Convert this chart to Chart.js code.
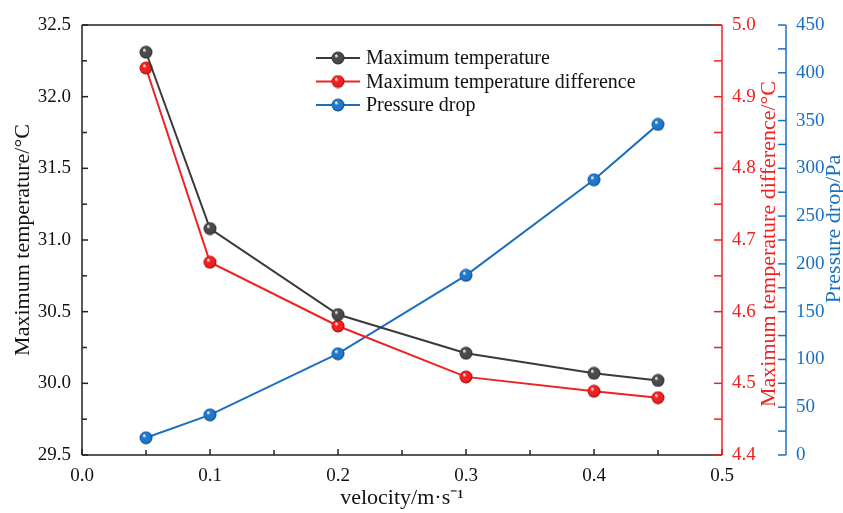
<!DOCTYPE html>
<html>
<head>
<meta charset="utf-8">
<script src="https://cdn.jsdelivr.net/npm/chart.js@4/dist/chart.umd.min.js"></script>
<style>
  html, body { margin: 0; padding: 0; background: #fff; }
  #wrap { width: 843px; height: 513px; position: relative; }
</style>
</head>
<body>
<div id="wrap"><canvas id="c" width="843" height="513"></canvas></div>
<script>
// ---- data ----
const velocity = [0.05, 0.1, 0.2, 0.3, 0.4, 0.45];
const maxTemp = [32.31, 31.08, 30.48, 30.21, 30.07, 30.02];
const maxTempDiff = [4.94, 4.669, 4.58, 4.509, 4.489, 4.48];
const pressureDrop = [18, 42, 106, 188, 288, 346];
const seriesNames = ["Maximum temperature", "Maximum temperature difference", "Pressure drop"];
const axisTitles = ["Maximum temperature/°C", "Maximum temperature difference/°C", "Pressure drop/Pa", "velocity/m·s⁻¹"];

const COL = { black: "#3a3a3a", red: "#ef2222", blue: "#1c6fc0" };
const FONT = "'Liberation Serif', 'Times New Roman', serif";

// shaded sphere markers
function sphere(color) {
  const r = 6.5, c = document.createElement("canvas");
  c.width = c.height = Math.ceil(r * 2 + 1);
  const g = c.getContext("2d");
  const cx = c.width / 2, cy = c.height / 2;
  const grd = g.createRadialGradient(cx - 2, cy - 2.5, 0.3, cx, cy, r);
  grd.addColorStop(0, "#ffffff");
  grd.addColorStop(0.3, color);
  grd.addColorStop(0.75, color);
  grd.addColorStop(1, shade(color));
  g.fillStyle = grd;
  g.beginPath(); g.arc(cx, cy, r, 0, Math.PI * 2); g.fill();
  return c;
}
function shade(hex) {
  const n = parseInt(hex.slice(1), 16);
  const f = (v) => Math.round(v * 0.6);
  return `rgb(${f(n >> 16)},${f((n >> 8) & 255)},${f(n & 255)})`;
}
const MK = { black: sphere("#4a4a4a"), red: sphere("#f22020"), blue: sphere("#1f78cc") };

const pts = (ys) => velocity.map((x, i) => ({ x, y: ys[i] }));

// ---- axes with inward ticks, right titles and legend, drawn through the chart's scales ----
const frame = {
  id: "frame",
  afterDatasetsDraw(chart) {
    const { ctx, chartArea: a, scales } = chart;
    ctx.save();
    ctx.lineWidth = 1.5;
    const tick = (x1, y1, x2, y2) => { ctx.beginPath(); ctx.moveTo(x1, y1); ctx.lineTo(x2, y2); ctx.stroke(); };
    // frame
    ctx.strokeStyle = "#222";
    tick(a.left, a.top, a.right, a.top);
    tick(a.left, a.bottom, a.right, a.bottom);
    tick(a.left, a.top, a.left, a.bottom);
    // x ticks (major + minor)
    for (let i = 0; i <= 10; i++) {
      const px = scales.x.getPixelForValue(i * 0.05);
      tick(px, a.bottom, px, a.bottom - (i % 2 === 0 ? 6 : 5));
    }
    // left y ticks
    for (let i = 0; i <= 12; i++) {
      const py = scales.y.getPixelForValue(29.5 + i * 0.25);
      tick(a.left, py, a.left + (i % 2 === 0 ? 6 : 5), py);
    }
    // red axis
    ctx.strokeStyle = COL.red;
    const rx = scales.y1.left;
    tick(rx, a.top, rx, a.bottom);
    for (let i = 0; i <= 12; i++) {
      const py = scales.y1.getPixelForValue(4.4 + i * 0.05);
      tick(rx, py, rx - 8, py);
    }
    // blue axis
    ctx.strokeStyle = COL.blue;
    const bx = scales.y2.left;
    tick(bx, a.top, bx, a.bottom);
    for (let v = 0; v <= 450; v += 25) {
      const py = scales.y2.getPixelForValue(v);
      tick(bx, py, bx - 8, py);
    }
    // right axis titles, reading bottom to top
    ctx.font = "22px " + FONT;
    ctx.textAlign = "center";
    ctx.textBaseline = "middle";
    [[axisTitles[1], COL.red, 769, 244], [axisTitles[2], COL.blue, 834, 229]].forEach(([t, c, x, y]) => {
      ctx.save();
      ctx.translate(x, y);
      ctx.rotate(-Math.PI / 2);
      ctx.fillStyle = c;
      ctx.fillText(t, 0, 0);
      ctx.restore();
    });
    // legend
    const lx = 316, ly = 58, dy = 23.5;
    const colors = [COL.black, COL.red, COL.blue];
    const marks = [MK.black, MK.red, MK.blue];
    ctx.font = "20px " + FONT;
    ctx.textAlign = "left";
    ctx.fillStyle = "#111";
    seriesNames.forEach((name, i) => {
      const y = ly + i * dy;
      ctx.strokeStyle = colors[i];
      ctx.lineWidth = 2;
      tick(lx, y, lx + 44, y);
      ctx.drawImage(marks[i], lx + 22 - marks[i].width / 2, y - marks[i].height / 2);
      ctx.fillText(name, lx + 50, y + 1);
    });
    ctx.restore();
  },
};

const tickFont = { family: FONT, size: 19 };
const titleFont = { family: FONT, size: 22 };

new Chart(document.getElementById("c"), {
  type: "line",
  data: {
    datasets: [
      { label: seriesNames[0], data: pts(maxTemp), yAxisID: "y", borderColor: COL.black, borderWidth: 2,
        pointStyle: MK.black, pointRadius: 6.5 },
      { label: seriesNames[1], data: pts(maxTempDiff), yAxisID: "y1", borderColor: COL.red, borderWidth: 2,
        pointStyle: MK.red, pointRadius: 6.5 },
      { label: seriesNames[2], data: pts(pressureDrop), yAxisID: "y2", borderColor: COL.blue, borderWidth: 2,
        pointStyle: MK.blue, pointRadius: 6.5 },
    ],
  },
  options: {
    responsive: false,
    animation: false,
    layout: { padding: { top: 25, left: 0, right: 0, bottom: 0 } },
    plugins: { legend: { display: false }, tooltip: { enabled: false } },
    scales: {
      x: {
        type: "linear", min: 0, max: 0.5,
        grid: { display: false }, border: { display: false },
        ticks: { stepSize: 0.1, color: "#111", font: tickFont, padding: 2, maxRotation: 0,
          callback: (v) => v.toFixed(1) },
        title: { display: true, text: axisTitles[3], color: "#111", font: titleFont, padding: { top: 0, bottom: 2 } },
        afterFit: (s) => { s.height = 58; },
      },
      y: {
        position: "left", min: 29.5, max: 32.5,
        grid: { display: false }, border: { display: false },
        ticks: { stepSize: 0.5, color: "#111", font: tickFont, padding: 3, callback: (v) => v.toFixed(1) },
        title: { display: true, text: axisTitles[0], color: "#111", font: titleFont, padding: { top: 10, bottom: 0 } },
        afterFit: (s) => { s.width = 82; },
      },
      y1: {
        position: "right", min: 4.4, max: 5.0,
        grid: { display: false }, border: { display: false },
        ticks: { stepSize: 0.1, color: COL.red, font: tickFont, padding: 2, callback: (v) => v.toFixed(1) },
        afterFit: (s) => { s.width = 64; },
      },
      y2: {
        position: "right", min: 0, max: 450,
        grid: { display: false }, border: { display: false },
        ticks: { stepSize: 50, color: COL.blue, font: tickFont, padding: 2 },
        afterFit: (s) => { s.width = 57; },
      },
    },
  },
  plugins: [frame],
});
</script>
</body>
</html>
